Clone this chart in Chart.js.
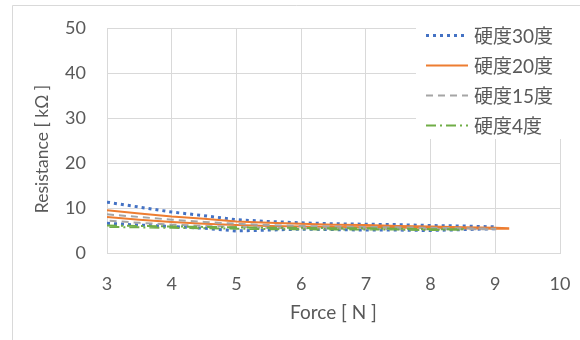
<!DOCTYPE html>
<html>
<head>
<meta charset="utf-8">
<script src="https://cdn.jsdelivr.net/npm/chart.js@4/dist/chart.umd.min.js"></script>
<style>
  html, body { margin: 0; padding: 0; background: #fff; }
  #wrap { width: 580px; height: 340px; position: relative; }
</style>
</head>
<body>
<div id="wrap"><canvas id="resChart" width="580" height="340"></canvas></div>
<script>
// 荷重 [N]
const forces = [3, 3.5, 4, 4.5, 5, 5.5, 6, 6.5, 7, 7.5, 8, 8.5, 9, 9.2];

// 抵抗値 [kΩ] 加圧 / 除圧
const load30   = [11.3, 10.2, 9.1, 8.3, 7.4, 7.0, 6.7, 6.5, 6.4, 6.3, 6.1, 6.0, 5.8];
const unload30 = [6.6, 6.2, 5.9, 5.5, 4.9, 5.1, 5.3, 5.2, 5.1, 5.1, 5.0, 5.2, 5.4];
const load20   = [9.5, 8.8, 8.1, 7.6, 7.0, 6.7, 6.5, 6.3, 6.2, 6.0, 5.9, 5.7, 5.6, 5.5];
const unload20 = [8.0, 7.4, 6.9, 6.5, 6.2, 6.0, 5.9, 5.8, 5.7, 5.6, 5.6, 5.5, 5.4, 5.4];
const load15   = [8.6, 8.0, 7.4, 6.9, 6.5, 6.2, 6.0, 5.9, 5.8, 5.7, 5.6, 5.5, 5.4];
const unload15 = [7.2, 6.7, 6.3, 6.0, 5.8, 5.6, 5.5, 5.4, 5.4, 5.3, 5.3, 5.3, 5.3];
const load4    = [6.1, 6.0, 5.9, 5.8, 5.7, 5.6, 5.6, 5.5, 5.5, 5.4, 5.3, 5.3];
const unload4  = [5.8, 5.7, 5.6, 5.5, 5.4, 5.3, 5.3, 5.2, 5.2, 5.2, 5.1, 5.2];

const seriesNames = ['硬度30度', '硬度20度', '硬度15度', '硬度4度'];
const xTicks = [3, 4, 5, 6, 7, 8, 9, 10];
const yTicks = [0, 10, 20, 30, 40, 50];

const FONT = "Lato, 'Noto Sans CJK JP', sans-serif";
const TXT = '#595959';
const GRID = '#d9d9d9';

// 加圧して除圧に戻るループ
function loop(load, unload) {
  const pts = load.map((v, i) => ({ x: forces[i], y: v }));
  for (let i = unload.length - 1; i >= 0; i--) pts.push({ x: forces[i], y: unload[i] });
  return pts;
}

const styles = [
  { color: '#4472C4', dash: [3, 4], width: 3 },
  { color: '#ED7D31', dash: [], width: 2 },
  { color: '#A5A5A5', dash: [7, 5], width: 2 },
  { color: '#70AD47', dash: [10, 4, 2, 4], width: 2 }
];
const loops = [loop(load30, unload30), loop(load20, unload20), loop(load15, unload15), loop(load4, unload4)];

// 枠線・縦軸タイトル・凡例
const frameLegend = {
  id: 'frameLegend',
  beforeDraw(chart) {
    const c = chart.ctx;
    c.save();
    c.fillStyle = '#fff';
    c.fillRect(0, 0, chart.width, chart.height);
    c.strokeStyle = GRID;
    c.lineWidth = 1;
    c.beginPath();
    c.moveTo(12.5, 340); c.lineTo(12.5, 5.5); c.lineTo(580, 5.5);
    c.stroke();
    c.translate(42, 149);
    c.rotate(-Math.PI / 2);
    c.font = '17.5px ' + FONT;
    c.fillStyle = TXT;
    c.textAlign = 'center';
    c.textBaseline = 'middle';
    c.fillText('Resistance [ kΩ ]', 0, 0);
    c.restore();
  },
  afterDraw(chart) {
    const c = chart.ctx;
    c.save();
    c.fillStyle = '#fff';
    c.fillRect(416, 20, 152, 119);
    c.font = '19px ' + FONT;
    c.textBaseline = 'middle';
    seriesNames.forEach((name, i) => {
      const y = 35.5 + i * 30;
      const s = styles[i];
      c.strokeStyle = s.color;
      c.lineWidth = s.width;
      c.setLineDash(s.dash);
      c.beginPath();
      c.moveTo(426, y); c.lineTo(468, y);
      c.stroke();
      c.setLineDash([]);
      c.fillStyle = TXT;
      c.fillText(name, 474, y + 1);
    });
    c.restore();
  }
};

new Chart(document.getElementById('resChart').getContext('2d'), {
  type: 'line',
  data: {
    datasets: seriesNames.map((name, i) => ({
      label: name,
      data: loops[i],
      borderColor: styles[i].color,
      borderDash: styles[i].dash,
      borderWidth: styles[i].width,
      pointRadius: 0,
      tension: 0,
      fill: false,
      order: 4 - i
    }))
  },
  options: {
    responsive: false,
    animation: false,
    layout: { padding: { left: 0, top: 28, right: 20, bottom: 0 } },
    plugins: { legend: { display: false }, tooltip: { enabled: false } },
    scales: {
      x: {
        type: 'linear', min: 3, max: 10,
        afterBuildTicks: s => { s.ticks = xTicks.map(v => ({ value: v })); },
        afterFit: s => { s.height = 87; s.paddingLeft = 0; s.paddingRight = 0; },
        grid: { color: GRID, drawTicks: false },
        border: { color: GRID },
        ticks: { color: TXT, font: { family: FONT, size: 18 }, padding: 20, maxRotation: 0 },
        title: { display: true, text: 'Force [ N ]', color: TXT, font: { family: FONT, size: 19 }, padding: { bottom: 16 } }
      },
      y: {
        min: 0, max: 50,
        afterBuildTicks: s => { s.ticks = yTicks.map(v => ({ value: v })); },
        afterFit: s => { s.width = 107; s.paddingTop = 0; s.paddingBottom = 0; },
        grid: { color: GRID, drawTicks: false },
        border: { color: GRID },
        ticks: { color: TXT, font: { family: FONT, size: 18 }, padding: 21 }
      }
    }
  },
  plugins: [frameLegend]
});
</script>
</body>
</html>
